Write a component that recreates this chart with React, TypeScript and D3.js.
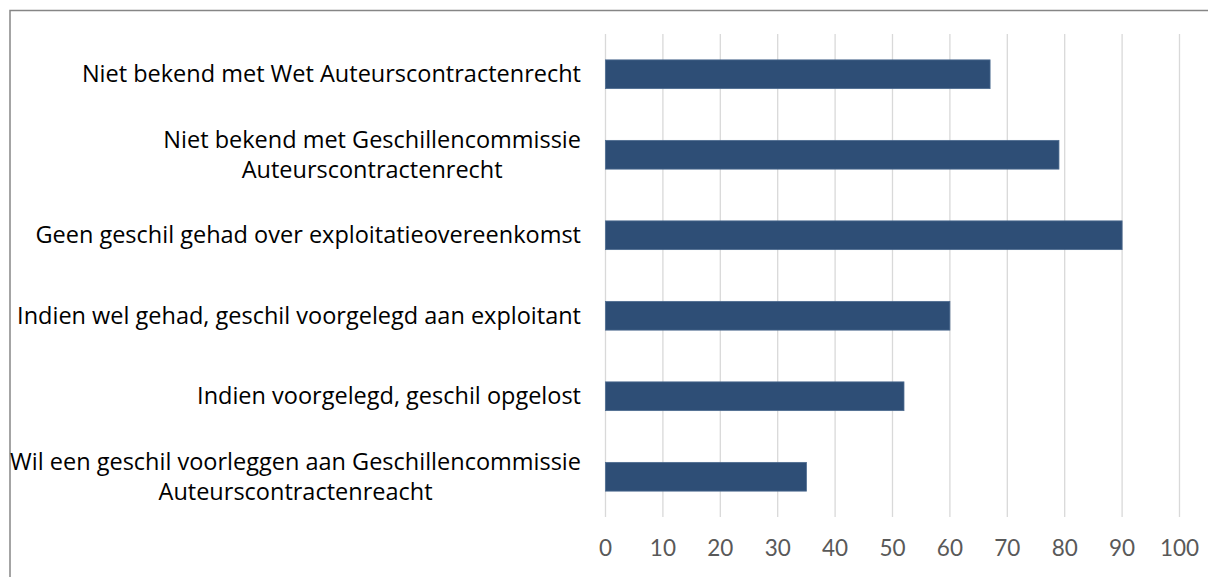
import React from "react";
import * as d3 from "d3";

const categories: string[][] = [
  ["Niet bekend met Wet Auteurscontractenrecht"],
  ["Niet bekend met Geschillencommissie", "Auteurscontractenrecht"],
  ["Geen geschil gehad over exploitatieovereenkomst"],
  ["Indien wel gehad, geschil voorgelegd aan exploitant"],
  ["Indien voorgelegd, geschil opgelost"],
  ["Wil een geschil voorleggen aan Geschillencommissie", "Auteurscontractenreacht"],
];
const values: number[] = [67, 79, 90, 60, 52, 35];
const ticks: number[] = [0, 10, 20, 30, 40, 50, 60, 70, 80, 90, 100];

const W = 1208;
const H = 577;
const left = 605.5;
const right = 1179.5;
const top = 34;
const bottom = 517;
const LABEL_FONT = "'Open Sans', sans-serif";
const LABEL_SIZE = 23.5;
const TICK_FONT = "Lato, sans-serif";
const labelRight = 581;

let ctx: CanvasRenderingContext2D | null = null;
function measure(s: string): number {
  if (!ctx) ctx = document.createElement("canvas").getContext("2d");
  if (!ctx) return s.length * LABEL_SIZE * 0.5;
  ctx.font = `${LABEL_SIZE}px ${LABEL_FONT}`;
  return ctx.measureText(s).width;
}

export default function App() {
  const x = d3.scaleLinear().domain([0, 100]).range([left, right]);
  const y = d3
    .scaleBand<number>()
    .domain(d3.range(categories.length))
    .range([top, bottom])
    .paddingInner(0.643)
    .paddingOuter(0.3215);
  const lineH = 30.5;
  return (
    <svg
      width={W}
      height={H}
      style={{ position: "absolute", left: 0, top: 0, background: "#fff" }}
    >
      <rect x={10} y={10.5} width={1260} height={640} fill="#fff" stroke="#868686" strokeWidth={1.5} />
      {ticks.map((t) => (
        <line key={t} x1={x(t)} x2={x(t)} y1={top} y2={bottom} stroke="#d9d9d9" strokeWidth={1.3} />
      ))}
      {values.map((v, i) => (
        <rect
          key={i}
          x={x(0)}
          y={y(i)}
          width={x(v) - x(0)}
          height={y.bandwidth()}
          fill="#2e4e76"
          stroke="#4d6b90"
          strokeWidth={0.8}
        />
      ))}
      {categories.map((lines, i) => {
        const cy = (y(i) as number) + y.bandwidth() / 2;
        const n = lines.length;
        const maxW = Math.max(...lines.map(measure));
        const cx = labelRight - maxW / 2;
        return (
          <text key={i} fontFamily={LABEL_FONT} fontSize={LABEL_SIZE} fill="#000" textAnchor="middle">
            {lines.map((l, j) => (
              <tspan key={j} x={cx} y={cy + 8 + (j - (n - 1) / 2) * lineH}>
                {l}
              </tspan>
            ))}
          </text>
        );
      })}
      {ticks.map((t) => (
        <text
          key={"t" + t}
          x={x(t)}
          y={555.5}
          fontFamily={TICK_FONT}
          fontSize={22.5}
          fill="#595959"
          textAnchor="middle"
        >
          {t}
        </text>
      ))}
    </svg>
  );
}
